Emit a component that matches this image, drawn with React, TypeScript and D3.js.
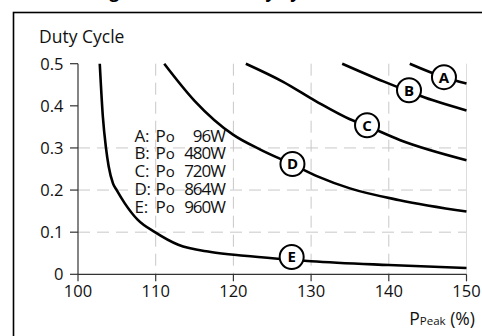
import React from "react";
import * as d3 from "d3";

const W = 482;
const H = 336;

const xTicks = [100, 110, 120, 130, 140, 150];
const yTicks = [0, 0.1, 0.2, 0.3, 0.4, 0.5];
const yTickLabels = ["0", "0.1", "0.2", "0.3", "0.4", "0.5"];
const hGrid = [0.1, 0.2, 0.3];
const vGridDashed = [110, 120, 130, 140];
const vGridSolid = [150];

const curveNames = ["A", "B", "C", "D", "E"];
const legendNames = ["A:", "B:", "C:", "D:", "E:"];
const legendPower = ["96W", "480W", "720W", "864W", "960W"];

const seriesA: [number, number][] = [[142.7, 0.5], [147.1, 0.468], [150, 0.453]];
const seriesB: [number, number][] = [[134, 0.5], [139.3, 0.458], [142.6, 0.434], [145.7, 0.413], [150, 0.389]];
const seriesC: [number, number][] = [[121.6, 0.5], [126.4, 0.457], [130.7, 0.41], [135, 0.368], [137.2, 0.352], [141.4, 0.319], [150, 0.271]];
const seriesD: [number, number][] = [[111.1, 0.5], [115.0, 0.412], [120, 0.331], [123.6, 0.295], [127.6, 0.261], [130.9, 0.232], [135, 0.204], [141.4, 0.176], [150, 0.149]];
const seriesE: [number, number][] = [[102.8, 0.5], [103.2, 0.374], [103.6, 0.3], [103.95, 0.256], [104.5, 0.216], [105.0, 0.199], [106.0, 0.169], [107.7, 0.129], [109.9, 0.1], [112.9, 0.07], [117.1, 0.053], [121.4, 0.044], [125.7, 0.037], [130, 0.031], [140, 0.022], [150, 0.015]];

const labelPos: [number, number][] = [[147.1, 0.468], [142.6, 0.437], [137.2, 0.354], [127.6, 0.262], [127.5, 0.041]];

const FONT = "'Open Sans', 'Noto Sans', sans-serif";

export default function App() {
  const x = d3.scaleLinear().domain([100, 150]).range([78, 466.5]);
  const y = d3.scaleLinear().domain([0, 0.5]).range([274.3, 63.7]);
  const line = d3
    .line<[number, number]>()
    .x((d) => x(d[0]))
    .y((d) => y(d[1]))
    .curve(d3.curveMonotoneX);
  const series = [seriesA, seriesB, seriesC, seriesD, seriesE];
  const grid = "#c8c8c8";
  const axisColor = "#333";

  return (
    <svg
      width={W}
      height={H}
      style={{ position: "absolute", left: 0, top: 0, background: "#fff" }}
      fontFamily={FONT}
    >
      <rect x={0} y={0} width={W} height={H} fill="#fff" />
      {/* cropped title */}
      <text x={119} y={-2.5} textAnchor="end" fontWeight="bold" fontSize={17} fill="#000">
        Peak Load Derating
      </text>
      <text x={324} y={-2.5} textAnchor="end" fontWeight="bold" fontSize={17} fill="#000">
        vs. Duty Cycle
      </text>
      {/* frame */}
      <rect x={13.5} y={12.5} width={W + 20} height={H + 20} fill="none" stroke="#000" strokeWidth={1.6} />

      {/* grid */}
      {hGrid.map((v) => (
        <line key={"h" + v} x1={x(100)} x2={x(150)} y1={y(v)} y2={y(v)} stroke={grid} strokeWidth={1} strokeDasharray="12,7" />
      ))}
      {vGridDashed.map((v) => (
        <line key={"v" + v} x1={x(v)} x2={x(v)} y1={y(0.5)} y2={y(0)} stroke={grid} strokeWidth={1} strokeDasharray="12,7" />
      ))}
      {vGridSolid.map((v) => (
        <line key={"vs" + v} x1={x(v)} x2={x(v)} y1={y(0.5)} y2={y(0)} stroke="#ddd" strokeWidth={1} />
      ))}

      {/* axes */}
      <line x1={x(100)} x2={x(100)} y1={y(0.5)} y2={y(0)} stroke={axisColor} strokeWidth={1.2} />
      <line x1={x(100)} x2={x(150)} y1={y(0)} y2={y(0)} stroke={axisColor} strokeWidth={1.2} />
      {yTicks.map((v, i) => (
        <g key={"yt" + v}>
          <line x1={x(100) - 8} x2={x(100)} y1={y(v)} y2={y(v)} stroke={axisColor} strokeWidth={1.2} />
          <text x={63.5} y={y(v)} dy="0.36em" textAnchor="end" fontSize={16.5} fill="#111">
            {yTickLabels[i]}
          </text>
        </g>
      ))}
      {xTicks.map((v) => (
        <g key={"xt" + v}>
          <line x1={x(v)} x2={x(v)} y1={y(0)} y2={y(0) + 7} stroke={axisColor} strokeWidth={1.2} />
          <text x={x(v)} y={297} textAnchor="middle" fontSize={16.5} fill="#111">
            {v}
          </text>
        </g>
      ))}

      <text x={39} y={43} fontSize={17.5} fill="#111">Duty Cycle</text>
      <text x={475} y={325} textAnchor="end" fill="#111" fontSize={17.5}>
        P<tspan fontSize={11.5}>Peak</tspan> (%)
      </text>

      {/* legend */}
      {legendNames.map((n, i) => (
        <g key={"lg" + n} fontSize={17} fill="#111">
          <text x={134.5} y={141.5 + i * 17.9} letterSpacing={-0.3}>{n}</text>
          <text x={155.5} y={141.5 + i * 17.9}>
            P<tspan fontSize={15}>o</tspan>
          </text>
          <text x={225} y={141.5 + i * 17.9} textAnchor="end" letterSpacing={-1}>{legendPower[i]}</text>
        </g>
      ))}

      {/* curves */}
      {series.map((s, i) => (
        <path key={"c" + i} d={line(s) || ""} fill="none" stroke="#000" strokeWidth={2.6} strokeLinejoin="round" />
      ))}

      {/* curve labels */}
      {labelPos.map((p, i) => (
        <g key={"lb" + i} transform={`translate(${x(p[0])},${y(p[1])})`}>
          <circle r={12} fill="#fff" stroke="#000" strokeWidth={2} />
          <text textAnchor="middle" dy="0.36em" fontWeight="bold" fontSize={15} fill="#000">
            {curveNames[i]}
          </text>
        </g>
      ))}
    </svg>
  );
}
